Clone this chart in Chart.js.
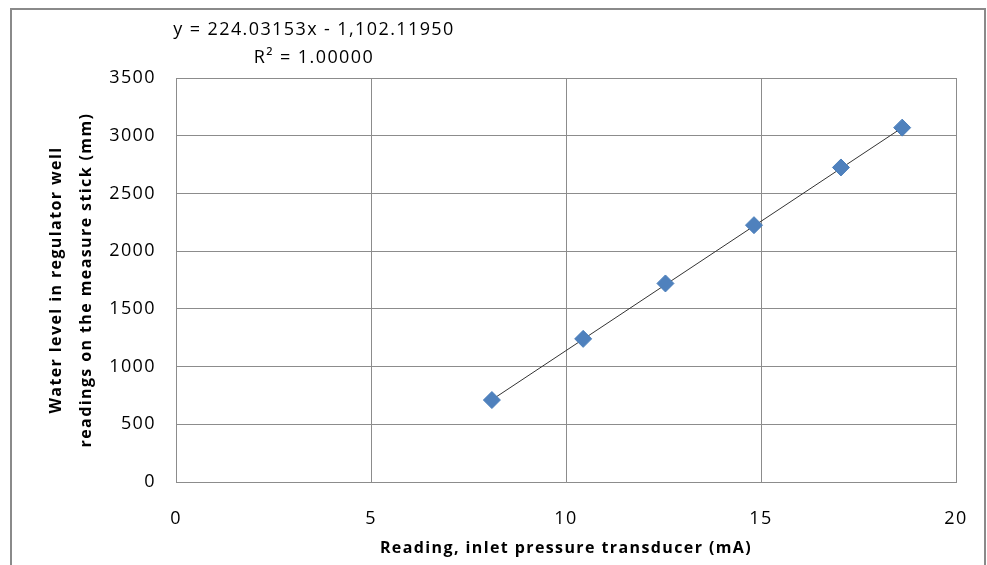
<!DOCTYPE html>
<html>
<head>
<meta charset="utf-8">
<script src="https://cdn.jsdelivr.net/npm/chart.js@4"></script>
<style>
  html, body { margin: 0; padding: 0; background: #fff; }
  #wrap { width: 987px; height: 565px; position: relative; }
</style>
</head>
<body>
<div id="wrap"><canvas id="calChart"></canvas></div>
<script>
// transducer current (mA) vs. measure stick reading (mm)
const currentMA = [8.10, 10.44, 12.55, 14.82, 17.05, 18.62];
const stickMM = [710, 1240, 1720, 2225, 2725, 3070];

// linear trendline as reported on the chart
const trendSlope = 224.03153;
const trendIntercept = -1102.11950;
const rSquared = 1.00000;

const xTicks = [0, 5, 10, 15, 20];
const yTicks = [0, 500, 1000, 1500, 2000, 2500, 3000, 3500];

const FONT = "'Open Sans', 'Liberation Sans', sans-serif";
const SPACING = "1.4px";

const points = currentMA.map((x, i) => ({ x: x, y: stickMM[i] }));
const xLo = Math.min(...currentMA);
const xHi = Math.max(...currentMA);
const trend = [xLo, xHi].map(x => ({ x: x, y: trendSlope * x + trendIntercept }));

const eqLine1 = "y = " + trendSlope.toFixed(5) + "x - " +
    Math.abs(trendIntercept).toLocaleString("en-US", { minimumFractionDigits: 5, maximumFractionDigits: 5 });
const eqLine2 = "R\u00B2 = " + rSquared.toFixed(5);

// outer chart frame + wider letter spacing for all text
const framePlugin = {
    id: "frame",
    beforeDraw(chart) {
        const c = chart.ctx;
        c.letterSpacing = SPACING;
        c.save();
        c.strokeStyle = "#8a8a8a";
        c.lineWidth = 2;
        c.strokeRect(11, 9, 974, 600);
        c.restore();
    }
};

// trendline equation label
const equationPlugin = {
    id: "equation",
    afterDraw(chart) {
        const c = chart.ctx;
        c.save();
        c.letterSpacing = SPACING;
        c.fillStyle = "#000";
        c.font = "18px " + FONT;
        c.textAlign = "center";
        c.textBaseline = "middle";
        c.fillText(eqLine1, 314, 30);
        c.fillText(eqLine2, 314, 58);
        c.restore();
    }
};

const ctx = document.getElementById("calChart");

new Chart(ctx, {
    type: "scatter",
    data: {
        datasets: [
            {
                label: "Trend",
                type: "line",
                data: trend,
                borderColor: "#333",
                borderWidth: 1,
                pointRadius: 0,
                fill: false,
                order: 2
            },
            {
                label: "Stick reading",
                data: points,
                pointStyle: "rectRot",
                pointRadius: 8.5,
                pointHoverRadius: 8.5,
                backgroundColor: "#4f81bd",
                borderColor: "#4a7ebb",
                borderWidth: 1,
                order: 1
            }
        ]
    },
    options: {
        responsive: true,
        maintainAspectRatio: false,
        animation: false,
        events: [],
        layout: {
            padding: { left: 11, top: 78, right: 31, bottom: 0 }
        },
        scales: {
            x: {
                type: "linear",
                min: 0,
                max: 20,
                afterBuildTicks: s => { s.ticks = xTicks.map(v => ({ value: v })); },
                afterFit: s => {
                    s.height = 83;
                    s.paddingLeft = 0;
                    s.paddingRight = 0;
                },
                ticks: {
                    color: "#000",
                    padding: 26,
                    font: { family: FONT, size: 18 },
                    callback: v => String(v)
                },
                grid: {
                    color: "#8c8c8c",
                    lineWidth: 1,
                    drawTicks: false
                },
                border: { color: "#8c8c8c", width: 1 },
                title: {
                    display: true,
                    text: "Reading, inlet pressure transducer (mA)",
                    color: "#000",
                    padding: { top: 0, bottom: 7 },
                    font: { family: FONT, size: 16, weight: "bold" }
                }
            },
            y: {
                type: "linear",
                min: 0,
                max: 3500,
                afterBuildTicks: s => { s.ticks = yTicks.map(v => ({ value: v })); },
                afterFit: s => { s.width = 165; },
                ticks: {
                    color: "#000",
                    padding: 20,
                    font: { family: FONT, size: 18 },
                    callback: v => String(v)
                },
                grid: {
                    color: "#8c8c8c",
                    lineWidth: 1,
                    drawTicks: false
                },
                border: { color: "#8c8c8c", width: 1 },
                title: {
                    display: true,
                    text: ["Water level in regulator well", "readings on the measure stick (mm)"],
                    color: "#000",
                    padding: { top: 31, bottom: 0 },
                    font: { family: FONT, size: 16, weight: "bold", lineHeight: 1.85 }
                }
            }
        },
        plugins: {
            legend: { display: false },
            tooltip: { enabled: false }
        }
    },
    plugins: [framePlugin, equationPlugin]
});
</script>
</body>
</html>
